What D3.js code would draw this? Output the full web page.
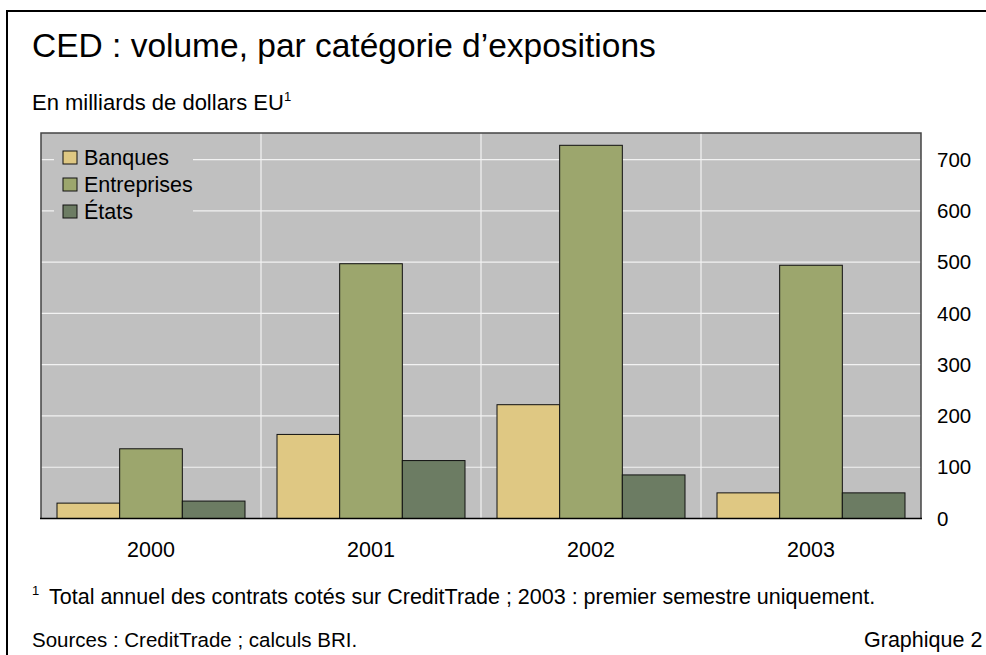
<!DOCTYPE html>
<html>
<head>
<meta charset="utf-8">
<script src="https://cdn.jsdelivr.net/npm/d3@7"></script>
<style>
  html, body { margin: 0; padding: 0; background: #fff; }
  svg { display: block; font-family: "Liberation Sans", Arial, sans-serif; }
</style>
</head>
<body>
<svg id="chart" width="986" height="655"></svg>
<script>
// Annual CDS volume by exposure category (billions of US dollars)
const years = ["2000", "2001", "2002", "2003"];
const seriesNames = ["Banques", "Entreprises", "États"];
const banques = [30, 164, 222, 50];
const entreprises = [136, 497, 728, 494];
const etats = [34, 113, 85, 50];
const yTicks = [0, 100, 200, 300, 400, 500, 600, 700];
const seriesColors = ["#dfc883", "#9ca66d", "#6c7c63"];

const seriesValues = [banques, entreprises, etats];
const rows = years.map((y, i) => ({
  year: y,
  values: seriesNames.map((s, k) => ({ key: s, value: seriesValues[k][i] }))
}));

const FONT = "Liberation Sans, Arial, sans-serif";
const BODY = 21.5;

const svg = d3.select("#chart");

// outer frame (top and left rules)
svg.append("line").attr("x1", 7).attr("x2", 986).attr("y1", 11).attr("y2", 11)
  .attr("stroke", "#000").attr("stroke-width", 2);
svg.append("line").attr("x1", 7).attr("x2", 7).attr("y1", 10).attr("y2", 655)
  .attr("stroke", "#000").attr("stroke-width", 2);

// title and unit line
svg.append("text").attr("x", 32).attr("y", 57)
  .attr("font-size", 33.5).attr("fill", "#000")
  .text("CED : volume, par catégorie d’expositions");
const sub = svg.append("text").attr("x", 32).attr("y", 110)
  .attr("font-size", 22).attr("fill", "#000");
sub.append("tspan").text("En milliards de dollars EU");
sub.append("tspan").attr("font-size", 13).attr("dy", -9).text("1");

// plot area
const plot = { left: 41, right: 921, top: 133, bottom: 518.5 };

const x0 = d3.scaleBand().domain(years).range([plot.left, plot.right]).padding(0);
const x1 = d3.scaleBand().domain(seriesNames)
  .range([16, x0.bandwidth() - 16]).padding(0);
const y = d3.scaleLinear().domain([0, 752]).range([plot.bottom, plot.top]);
const color = d3.scaleOrdinal().domain(seriesNames).range(seriesColors);

svg.append("rect")
  .attr("x", plot.left).attr("y", plot.top)
  .attr("width", plot.right - plot.left).attr("height", plot.bottom - plot.top)
  .attr("fill", "#c0c0c0");

// horizontal gridlines
svg.append("g").selectAll("line")
  .data(yTicks.filter(d => d > 0))
  .join("line")
  .attr("x1", plot.left).attr("x2", plot.right)
  .attr("y1", d => y(d)).attr("y2", d => y(d))
  .attr("stroke", "#f2f2f2").attr("stroke-width", 1.2);

// vertical separators between years
svg.append("g").selectAll("line")
  .data(years.slice(1))
  .join("line")
  .attr("x1", d => x0(d)).attr("x2", d => x0(d))
  .attr("y1", plot.top).attr("y2", plot.bottom)
  .attr("stroke", "#f2f2f2").attr("stroke-width", 1.2);

// bars
const groups = svg.append("g").selectAll("g")
  .data(rows)
  .join("g")
  .attr("transform", d => `translate(${x0(d.year)},0)`);
groups.selectAll("rect")
  .data(d => d.values)
  .join("rect")
  .attr("x", d => x1(d.key))
  .attr("y", d => y(d.value))
  .attr("width", x1.bandwidth())
  .attr("height", d => y(0) - y(d.value))
  .attr("fill", d => color(d.key))
  .attr("stroke", "#111")
  .attr("stroke-width", 1);

// plot border
svg.append("path")
  .attr("d", `M${plot.left},${plot.bottom}V${plot.top}H${plot.right}V${plot.bottom}`)
  .attr("fill", "none").attr("stroke", "#444").attr("stroke-width", 1.5);
svg.append("line")
  .attr("x1", plot.left - 1).attr("x2", plot.right + 1)
  .attr("y1", plot.bottom).attr("y2", plot.bottom)
  .attr("stroke", "#000").attr("stroke-width", 1.5);

// right value axis
const yAxis = d3.axisRight(y).tickValues(yTicks).tickSize(0).tickPadding(16);
const ya = svg.append("g").attr("transform", `translate(${plot.right},0)`).call(yAxis);
ya.select(".domain").remove();
ya.selectAll("text").attr("font-size", 20.5).attr("fill", "#000").attr("font-family", FONT);

// year axis
const xAxis = d3.axisBottom(x0).tickSize(0).tickPadding(23);
const xa = svg.append("g").attr("transform", `translate(0,${plot.bottom})`).call(xAxis);
xa.select(".domain").remove();
xa.selectAll("text").attr("font-size", BODY).attr("fill", "#000").attr("font-family", FONT);

// legend
const legend = svg.append("g");
legend.append("rect").attr("x", 54).attr("y", 142).attr("width", 139).attr("height", 82)
  .attr("fill", "#c0c0c0");
const li = legend.selectAll("g")
  .data(seriesNames)
  .join("g")
  .attr("transform", (d, i) => `translate(63,${151 + i * 27})`);
li.append("rect").attr("width", 14).attr("height", 13)
  .attr("fill", d => color(d)).attr("stroke", "#111").attr("stroke-width", 1);
li.append("text").attr("x", 21).attr("y", 14)
  .attr("font-size", BODY).attr("fill", "#000").text(d => d);

// footnote and source
const fn = svg.append("text").attr("x", 32).attr("y", 604).attr("font-size", BODY).attr("fill", "#000");
fn.append("tspan").attr("font-size", 13).attr("dy", -9).text("1");
fn.append("tspan").attr("x", 49).attr("dy", 9)
  .text("Total annuel des contrats cotés sur CreditTrade ; 2003 : premier semestre uniquement.");
svg.append("text").attr("x", 32).attr("y", 647).attr("font-size", 20.5).attr("fill", "#000")
  .text("Sources : CreditTrade ; calculs BRI.");
svg.append("text").attr("x", 864).attr("y", 647).attr("font-size", BODY).attr("fill", "#000")
  .text("Graphique 2");
</script>
</body>
</html>
